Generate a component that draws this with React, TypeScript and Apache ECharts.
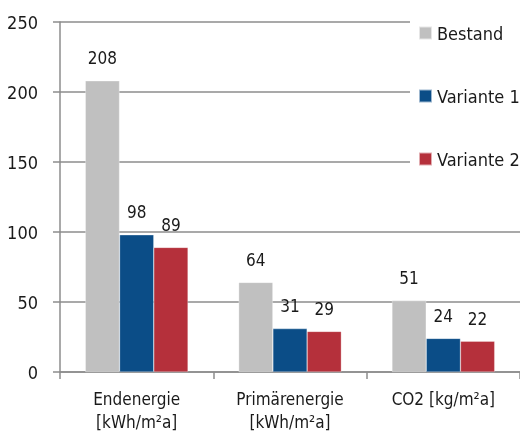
import React, { useEffect, useRef } from "react";
import * as echarts from "echarts";

const categories = ["Endenergie\n[kWh/m²a]", "Primärenergie\n[kWh/m²a]", "CO2 [kg/m²a]"];
const seriesNames = ["Bestand", "Variante 1", "Variante 2"];
const bestand = [208, 64, 51];
const variante1 = [98, 31, 24];
const variante2 = [89, 29, 22];
const colors = ["#c0c0c0", "#0b4d87", "#b5303b"];

const FONT = "'Liberation Sans Narrow', 'DejaVu Sans Condensed', 'Roboto Condensed', sans-serif";

export default function App() {
  const ref = useRef<HTMLDivElement>(null);
  useEffect(() => {
    if (!ref.current) return;
    const chart = echarts.init(ref.current, undefined, { renderer: "svg" });
    const values = [bestand, variante1, variante2];
    chart.setOption({
      animation: false,
      textStyle: { fontFamily: FONT },
      grid: { left: 60, right: 0, top: 22, bottom: 70, containLabel: false },
      legend: {
        orient: "vertical",
        left: 410,
        top: 14,
        width: 110,
        height: 170,
        padding: [10, 20, 20, 8],
        backgroundColor: "#ffffff",
        itemWidth: 13,
        itemHeight: 13,
        itemGap: 45,
        icon: "rect",
        textStyle: { fontFamily: FONT, fontSize: 18, color: "#1a1a1a" },
        data: seriesNames,
      },
      xAxis: {
        type: "category",
        data: categories,
        axisLine: { lineStyle: { color: "#8c8c8c", width: 1.5 } },
        axisTick: { show: true, length: 7, lineStyle: { color: "#8c8c8c", width: 1.5 } },
        axisLabel: { fontFamily: FONT, fontSize: 17, color: "#1a1a1a", lineHeight: 23, margin: 15, interval: 0 },
      },
      yAxis: {
        type: "value",
        min: 0,
        max: 250,
        interval: 50,
        axisLine: { show: true, lineStyle: { color: "#8c8c8c", width: 1.5 } },
        axisTick: { show: true, length: 7, lineStyle: { color: "#8c8c8c", width: 1.5 } },
        splitLine: { lineStyle: { color: "#8c8c8c", width: 1.5 } },
        axisLabel: { fontFamily: FONT, fontSize: 18, color: "#1a1a1a", margin: 22 },
      },
      series: seriesNames.map((name, i) => ({
        name,
        type: "bar",
        data: values[i],
        barGap: "0%",
        barCategoryGap: "33%",
        itemStyle: { color: colors[i], borderColor: "rgba(255,255,255,0.6)", borderWidth: 0.5 },
        label: {
          show: true,
          position: "top",
          distance: 14,
          fontFamily: FONT,
          fontSize: 17,
          color: "#1a1a1a",
        },
      })),
    });
    return () => chart.dispose();
  }, []);
  return <div ref={ref} style={{ position: "fixed", left: 0, top: 0, width: 520, height: 442 }} />;
}
